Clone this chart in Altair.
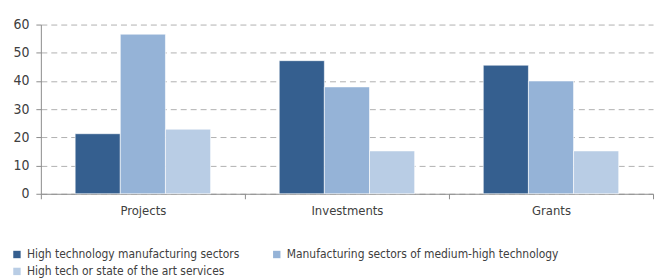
import altair as alt
import pandas as pd

categories = ["Projects", "Investments", "Grants"]
series = [
    "High technology manufacturing sectors",
    "Manufacturing sectors of medium-high technology",
    "High tech or state of the art services",
]
high_tech = [21.3, 47.2, 45.6]
medium_high = [56.6, 37.9, 40.0]
services = [22.9, 15.2, 15.2]
colors = ["#355F8F", "#95B3D7", "#B9CDE5"]

rows = []
for i, c in enumerate(categories):
    for s, vals in zip(series, [high_tech, medium_high, services]):
        rows.append({"category": c, "series": s, "value": vals[i]})
df = pd.DataFrame(rows)

FONT = "'Liberation Sans Narrow', 'Arial Narrow', 'DejaVu Sans Condensed', 'Liberation Sans', sans-serif"

chart = alt.Chart(df).mark_bar(stroke="white", strokeWidth=0.6).encode(
    x=alt.X("category:N", sort=categories, title=None,
            scale=alt.Scale(paddingInner=0, paddingOuter=0),
            axis=alt.Axis(labelAngle=0, tickBand="extent", domainColor="#8C8C8C",
                          tickColor="#8C8C8C", tickSize=5, labelPadding=6,
                          labelFontSize=13, labelColor="#404040", grid=False)),
    xOffset=alt.XOffset("series:N", sort=series,
                        scale=alt.Scale(paddingInner=0, paddingOuter=0.76)),
    y=alt.Y("value:Q", title=None,
            scale=alt.Scale(domain=[0, 60]),
            axis=alt.Axis(values=[0, 10, 20, 30, 40, 50, 60], grid=True,
                          gridDash=[6, 4], gridColor="#B0B0B0",
                          domainColor="#8C8C8C", tickColor="#8C8C8C",
                          tickSize=5, labelPadding=7, labelFontSize=14,
                          labelColor="#404040", minExtent=33)),
    color=alt.Color("series:N", sort=series,
                    scale=alt.Scale(domain=series, range=colors),
                    legend=alt.Legend(title=None, orient="none", legendX=-30, legendY=225,
                                      columns=2,
                                      direction="horizontal", symbolType="square",
                                      symbolSize=55, symbolStrokeWidth=0,
                                      labelFontSize=12, labelColor="#404040",
                                      labelOffset=4,
                                      columnPadding=31, rowPadding=5,
                                      labelLimit=300, padding=0)),
).properties(width=615, height=170, padding={"top": 9, "left": 0, "right": 5, "bottom": 5}).configure(
    font=FONT
).configure_view(stroke=None).configure_axis(labelFont=FONT).configure_legend(labelFont=FONT)

chart.save("out.html", embed_options={"renderer": "svg", "actions": False})
